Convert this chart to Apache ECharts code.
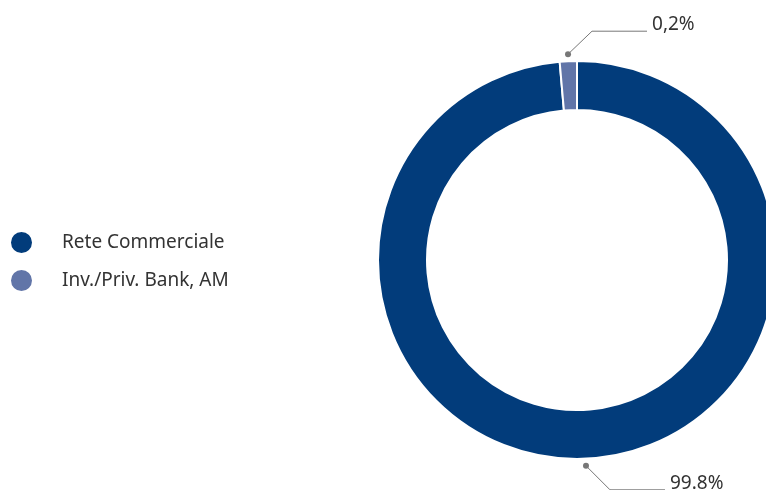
<!DOCTYPE html>
<html>
<head>
<meta charset="utf-8">
<script src="https://cdn.jsdelivr.net/npm/echarts@6/dist/echarts.min.js"></script>
<style>
  html, body { margin: 0; padding: 0; background: #fff; }
  #container { width: 766px; height: 490px; }
</style>
</head>
<body>
<div id="container"></div>
<script>
// dati
var categories = ["Rete Commerciale", "Inv./Priv. Bank, AM"];
var values = [99.8, 0.2];
var labels = ["99.8%", "0,2%"];
var colors = ["#023c7b", "#6175a8"];

var dots = [];

var option = {
  backgroundColor: "#fff",
  textStyle: { fontFamily: "Noto Sans" },
  legend: {
    orient: "vertical",
    left: 4,
    top: 225,
    icon: "circle",
    itemWidth: 23,
    itemHeight: 23,
    itemGap: 13,
    data: categories,
    textStyle: {
      color: "#333",
      fontSize: 19,
      padding: [0, 0, 0, 24]
    }
  },
  series: [
    {
      type: "pie",
      center: [577, 260],
      radius: [150, 199],
      startAngle: 90,
      clockwise: true,
      minAngle: 5,
      avoidLabelOverlap: false,
      itemStyle: { borderColor: "#fff", borderWidth: 2 },
      label: {
        show: true,
        color: "#333",
        fontSize: 19,
        formatter: function (p) { return labels[p.dataIndex]; }
      },
      labelLine: {
        show: true,
        length: 30,
        length2: 55,
        lineStyle: { color: "#777", width: 1 }
      },
      labelLayout: function (params) {
        var p = params.labelLinePoints;
        if (!p) return;
        var dx = p[1][0] - p[0][0], dy = p[1][1] - p[0][1];
        var len = Math.sqrt(dx * dx + dy * dy) || 1;
        var s = [p[0][0] + dx / len * 7, p[0][1] + dy / len * 7];
        var up = dy < 0;
        var m = [s[0] + 24, s[1] + (up ? -23 : 24)];
        var e = [m[0] + 55, m[1]];
        dots[params.dataIndex] = s;
        return {
          labelLinePoints: [s, m, e],
          x: e[0] + 5,
          y: e[1] + 3,
          align: "left",
          verticalAlign: "bottom"
        };
      },
      emphasis: { disabled: true },
      data: categories.map(function (c, i) {
        return { name: c, value: values[i], itemStyle: { color: colors[i] } };
      })
    }
  ]
};

var dom = document.getElementById("container");
var myChart = echarts.init(dom);
myChart.setOption(option);

var done = false;
myChart.on("finished", function () {
  if (done) return;
  done = true;
  myChart.setOption({
    graphic: dots.map(function (d) {
      return {
        type: "circle",
        shape: { cx: d[0], cy: d[1], r: 3 },
        style: { fill: "#777" },
        z: 10
      };
    })
  });
});
</script>
</body>
</html>
